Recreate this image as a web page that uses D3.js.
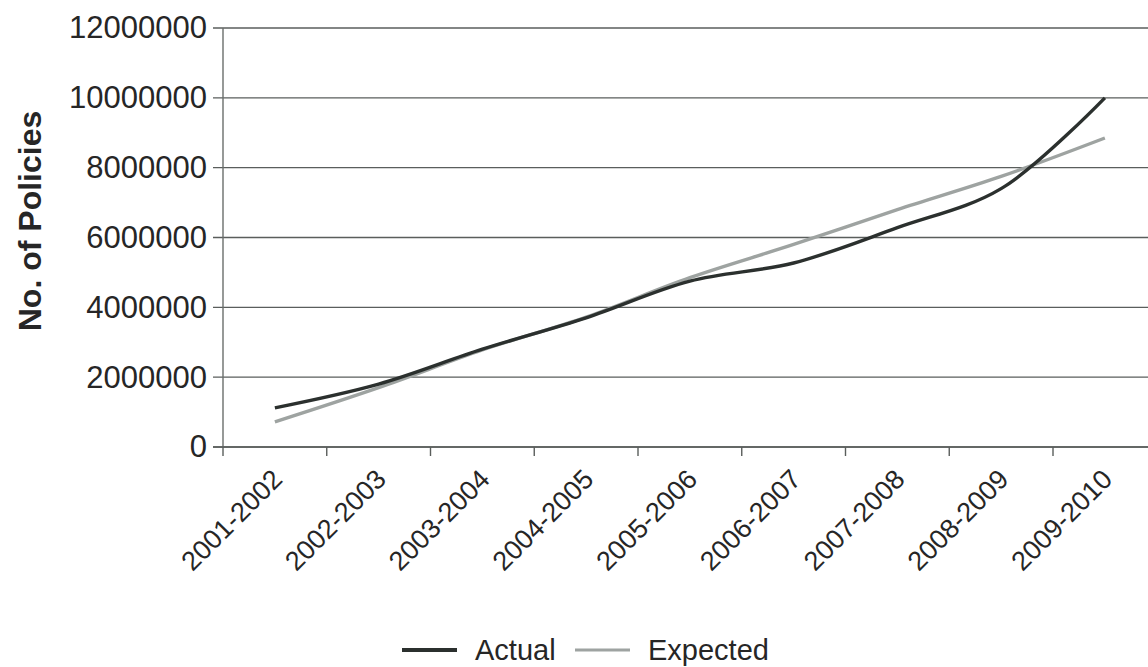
<!DOCTYPE html>
<html>
<head>
<meta charset="utf-8">
<script src="https://cdn.jsdelivr.net/npm/d3@7"></script>
<style>
  html, body { margin: 0; padding: 0; background: #ffffff; }
  svg { display: block; }
  text { font-family: "Liberation Sans", Arial, sans-serif; fill: #262626; }
</style>
</head>
<body>
<svg id="chart" width="1148" height="667"></svg>
<script>
// Policies issued per financial year
const categories = ["2001-2002", "2002-2003", "2003-2004", "2004-2005", "2005-2006",
                    "2006-2007", "2007-2008", "2008-2009", "2009-2010"];
const actual   = [1120000, 1800000, 2800000, 3700000, 4750000, 5270000, 6280000, 7400000, 10000000];
const expected = [720000, 1700000, 2780000, 3720000, 4850000, 5800000, 6800000, 7750000, 8850000];
const yTicks = [0, 2000000, 4000000, 6000000, 8000000, 10000000, 12000000];
const seriesNames = ["Actual", "Expected"];

const W = 1148, H = 667;
const left = 223, bandW = 103.75;
const yBottom = 447, yTop = 28;

const svg = d3.select("#chart");

const x = d3.scaleBand()
  .domain(categories)
  .range([left, left + bandW * categories.length])
  .paddingInner(0).paddingOuter(0);

const y = d3.scaleLinear().domain([0, 12000000]).range([yBottom, yTop]);

// horizontal gridlines (with the outer tick stubs to the left of the axis)
svg.append("g").selectAll("line")
  .data(yTicks)
  .join("line")
  .attr("x1", left - 10).attr("x2", W)
  .attr("y1", d => y(d)).attr("y2", d => y(d))
  .attr("stroke", "#5a5e5c").attr("stroke-width", 1.4);

// vertical axis line
svg.append("line")
  .attr("x1", left).attr("x2", left)
  .attr("y1", y(12000000)).attr("y2", y(0))
  .attr("stroke", "#6a6e6c").attr("stroke-width", 1.4);

// y tick labels
const yAxis = d3.axisLeft(y).tickValues(yTicks).tickSize(0).tickPadding(16)
  .tickFormat(d3.format("d"));
const gy = svg.append("g").attr("transform", `translate(${left},0)`).call(yAxis);
gy.select(".domain").remove();
gy.selectAll("text")
  .style("font-family", "'Liberation Sans', Arial, sans-serif")
  .style("font-size", "31px").attr("fill", "#262626");

// x axis line and ticks at band boundaries
svg.append("line")
  .attr("x1", left - 10).attr("x2", W)
  .attr("y1", y(0)).attr("y2", y(0))
  .attr("stroke", "#5a5e5c").attr("stroke-width", 1.6);
const boundaries = categories.map(c => x(c)).concat([x.range()[1]]);
svg.append("g").selectAll("line")
  .data(boundaries)
  .join("line")
  .attr("x1", d => d).attr("x2", d => d)
  .attr("y1", y(0)).attr("y2", y(0) + 9)
  .attr("stroke", "#5a5e5c").attr("stroke-width", 1.4);

// rotated category labels
svg.append("g").selectAll("text")
  .data(categories)
  .join("text")
  .attr("transform", d => `translate(${x(d) + x.bandwidth() / 2 + 9},${y(0) + 34}) rotate(-45)`)
  .attr("text-anchor", "end")
  .style("font-size", "27px")
  .text(d => d);

// y axis title
svg.append("text")
  .attr("transform", `translate(41,221) rotate(-90)`)
  .attr("text-anchor", "middle")
  .style("font-size", "32px").style("font-weight", "bold")
  .text("No. of Policies");

// series lines
const line = d3.line()
  .x((d, i) => x(categories[i]) + x.bandwidth() / 2)
  .y(d => y(d))
  .curve(d3.curveCatmullRom.alpha(0.5));

svg.append("path").datum(expected)
  .attr("d", line).attr("fill", "none")
  .attr("stroke", "#9ea3a1").attr("stroke-width", 3.4);
svg.append("path").datum(actual)
  .attr("d", line).attr("fill", "none")
  .attr("stroke", "#2b302e").attr("stroke-width", 3.4);

// legend
const legendColors = ["#2b302e", "#9ea3a1"];
const legendX = [402, 575];
const lg = svg.append("g");
seriesNames.forEach((name, i) => {
  lg.append("line")
    .attr("x1", legendX[i]).attr("x2", legendX[i] + 55)
    .attr("y1", 650).attr("y2", 650)
    .attr("stroke", legendColors[i]).attr("stroke-width", i === 0 ? 4 : 3);
  lg.append("text")
    .attr("x", legendX[i] + 73).attr("y", 660)
    .style("font-size", "29px")
    .text(name);
});
</script>
</body>
</html>
